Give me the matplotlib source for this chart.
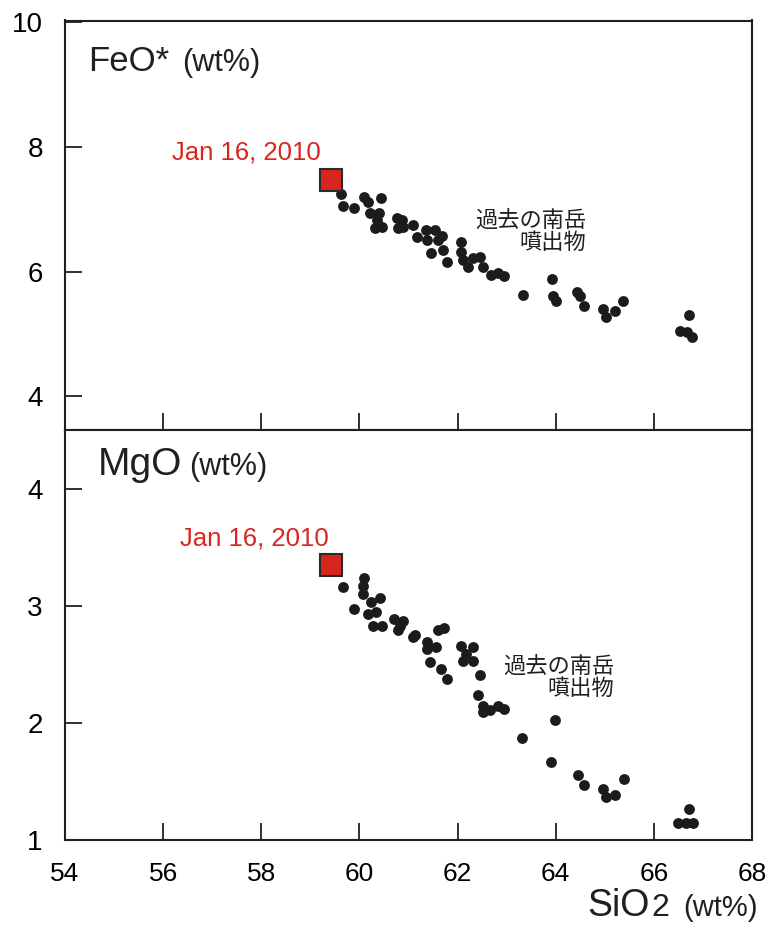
import matplotlib.pyplot as plt

# 過去の南岳噴出物 (past Minamidake ejecta)
sio2_feo = [59.62, 59.66, 59.88, 60.10, 60.17, 60.43, 60.22, 60.39, 60.32, 60.47,
            60.36, 60.76, 60.86, 60.79, 60.89, 61.10, 61.17, 61.36, 61.37, 61.54,
            61.69, 61.61, 61.45, 61.71, 61.78, 62.06, 62.08, 62.12, 62.22, 62.32,
            62.46, 62.52, 62.68, 62.83, 62.95, 63.33, 63.92, 63.95, 64.01, 64.43,
            64.50, 64.58, 64.97, 65.02, 65.21, 65.38, 66.72, 66.53, 66.67, 66.77]
feo = [7.24, 7.05, 7.01, 7.20, 7.12, 7.17, 6.93, 6.93, 6.69, 6.72,
       6.83, 6.85, 6.83, 6.69, 6.72, 6.75, 6.56, 6.67, 6.50, 6.67,
       6.57, 6.51, 6.29, 6.35, 6.16, 6.47, 6.32, 6.19, 6.08, 6.22,
       6.23, 6.08, 5.95, 5.98, 5.93, 5.62, 5.88, 5.61, 5.53, 5.67,
       5.61, 5.44, 5.40, 5.27, 5.37, 5.52, 5.31, 5.04, 5.03, 4.95]

sio2_mgo = [59.67, 60.09, 60.07, 60.08, 60.42, 59.88, 60.23, 60.18, 60.34, 60.28,
            60.45, 60.70, 60.89, 60.78, 60.83, 61.13, 61.10, 61.37, 61.37, 61.57,
            61.61, 61.72, 61.44, 61.66, 61.78, 62.06, 62.32, 62.12, 62.32, 62.18,
            62.46, 62.42, 62.52, 62.51, 62.66, 62.83, 62.95, 63.31, 63.99, 63.90,
            64.45, 64.58, 64.96, 65.02, 65.21, 65.39, 66.72, 66.50, 66.66, 66.80]
mgo = [3.16, 3.24, 3.17, 3.10, 3.07, 2.97, 3.03, 2.93, 2.95, 2.83,
       2.83, 2.89, 2.87, 2.79, 2.83, 2.75, 2.73, 2.69, 2.63, 2.65,
       2.79, 2.81, 2.52, 2.46, 2.37, 2.66, 2.65, 2.53, 2.53, 2.59,
       2.41, 2.24, 2.14, 2.09, 2.11, 2.14, 2.12, 1.87, 2.02, 1.66,
       1.55, 1.47, 1.43, 1.36, 1.38, 1.52, 1.26, 1.14, 1.14, 1.14]

# Jan 16, 2010 sample
new_sio2 = 59.42
new_feo = 7.46
new_mgo = 3.35

x_ticks = [54, 56, 58, 60, 62, 64, 66, 68]
feo_ticks = [4, 6, 8, 10]
mgo_ticks = [1, 2, 3, 4]

RED = "#d7261e"
DOT = "#1c1a1b"
FRAME = "#231f20"
SANS = ["Liberation Sans", "DejaVu Sans"]
JP = ["Noto Sans CJK JP", "DejaVu Sans"]

plt.rcParams['font.family'] = SANS

fig = plt.figure(figsize=(7.71, 9.26), dpi=100)
ax1 = fig.add_axes([65 / 771, 1 - 429.5 / 926, 687 / 771, 409 / 926])
ax2 = fig.add_axes([65 / 771, 1 - 839.5 / 926, 687 / 771, 410 / 926], sharex=ax1)

for ax in (ax1, ax2):
    for sp in ax.spines.values():
        sp.set_color(FRAME)
        sp.set_linewidth(1.5)
    ax.set_xlim(54, 68)
    ax.set_xticks(x_ticks)
    ax.tick_params(direction='in', length=12, width=1.3, color=FRAME, pad=16)
    ax.tick_params(axis='y', labelsize=20)
    ax.tick_params(axis='x', labelsize=19)

ax1.set_ylim(3.47, 10.02)
ax1.set_yticks(feo_ticks)
ax1.tick_params(axis='x', labelbottom=False)
ax2.set_ylim(1, 4.51)
ax2.set_yticks(mgo_ticks)

ax1.plot(sio2_feo, feo, 'o', color=DOT, markersize=7.8, markeredgewidth=0, zorder=3)
ax1.plot(new_sio2, new_feo, 's', color=RED, markeredgecolor="#2b2b2b",
         markersize=15.5, markeredgewidth=1.5, zorder=4)
ax2.plot(sio2_mgo, mgo, 'o', color=DOT, markersize=7.8, markeredgewidth=0, zorder=3)
ax2.plot(new_sio2, new_mgo, 's', color=RED, markeredgecolor="#2b2b2b",
         markersize=15.5, markeredgewidth=1.5, zorder=4)

# panel titles
ax1.text(0.034, 0.877, "FeO*", transform=ax1.transAxes, fontsize=25,
         ha='left', va='baseline', color=FRAME)
ax1.text(0.170, 0.877, "(wt%)", transform=ax1.transAxes, fontsize=22,
         ha='left', va='baseline', color=FRAME)
ax2.text(0.047, 0.890, "MgO", transform=ax2.transAxes, fontsize=28,
         ha='left', va='baseline', color=FRAME)
ax2.text(0.181, 0.890, "(wt%)", transform=ax2.transAxes, fontsize=22,
         ha='left', va='baseline', color=FRAME)

# labels for the 2010 sample
ax1.text(57.69, 7.91, "Jan 16, 2010", color=RED, fontsize=18.5, ha='center', va='center')
ax2.text(57.85, 3.58, "Jan 16, 2010", color=RED, fontsize=18.5, ha='center', va='center')

ax1.text(64.62, 6.64, "過去の南岳\n噴出物", family=JP, fontsize=16,
         ha='right', va='center', multialignment='right', linespacing=0.95, color=FRAME)
ax2.text(65.19, 2.39, "過去の南岳\n噴出物", family=JP, fontsize=16,
         ha='right', va='center', multialignment='right', linespacing=0.95, color=FRAME)

# x axis title
fig.text(650 / 771, 1 - 916 / 926, "SiO", fontsize=27, ha='right', va='baseline', color=FRAME)
fig.text(651 / 771, 1 - 916 / 926, "2", fontsize=23, ha='left',
         va='baseline', color=FRAME)
fig.text(758 / 771, 1 - 916 / 926, "(wt%)", fontsize=21, ha='right',
         va='baseline', color=FRAME)

fig.savefig("out.png", dpi=100)
plt.close(fig)
